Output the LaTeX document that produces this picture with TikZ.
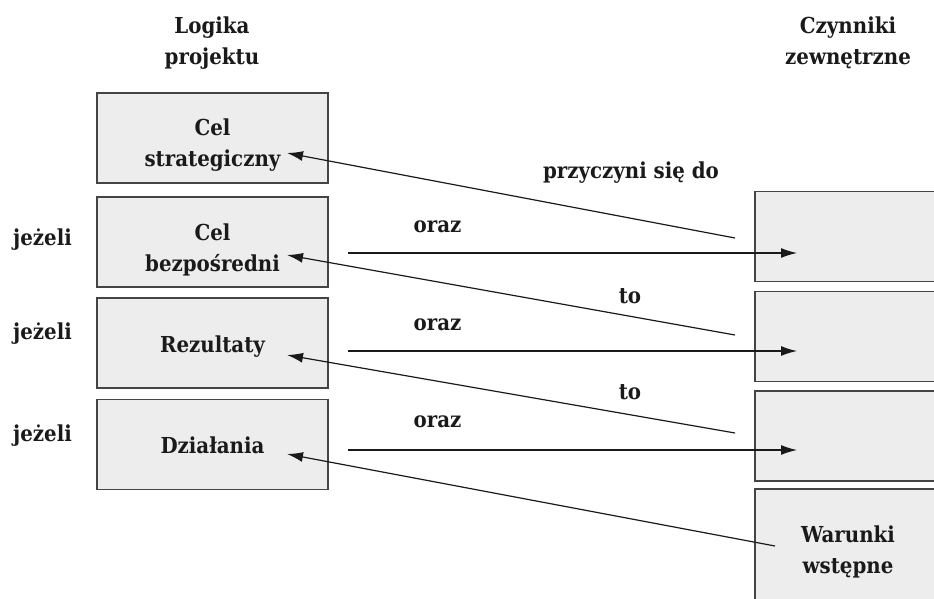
\documentclass[tikz,border=0pt]{standalone}
\usepackage{fontspec}
\setmainfont[FakeStretch=0.9]{DejaVu Serif}
\usetikzlibrary{arrows.meta}
\definecolor{boxfill}{HTML}{EDEDED}
\definecolor{boxline}{HTML}{444444}
\definecolor{ink}{HTML}{1A1A1A}
\tikzset{
  txt/.style={font=\bfseries\fontsize{22}{31}\selectfont, text=ink},
  boxtxt/.style={txt, align=center, inner sep=0pt},
  lbox/.style={draw=boxline, fill=boxfill, line width=1.3pt, minimum width=231pt,
    minimum height=90pt, inner sep=0pt},
  rbox/.style={lbox, minimum width=186pt},
  lbl/.style={txt, anchor=base},
  head/.style={txt, align=center},
  link/.style={draw=ink, line width=1.2pt, -{Latex[length=16pt,width=10pt]}}
}
\begin{document}
\begin{tikzpicture}[x=1pt,y=-1pt]
\useasboundingbox (0,0) rectangle (934,598);
\clip (0,0) rectangle (934,598);
% column headings
\node[head] (h1) at (212,43) {Logika\\projektu};
\node[head] (h2) at (848,42.5) {Czynniki\\zewnętrzne};
% project logic column
\node[lbox, label={[boxtxt, yshift=-7.5pt]center:{Cel\\strategiczny}}] (L1) at (212.5,138) {};
\node[lbox, label={[boxtxt, yshift=-7.5pt]center:{Cel\\bezpośredni}}] (L2) at (212.5,242) {};
\node[lbox, label={[boxtxt, yshift=-3.8pt]center:{Rezultaty}}] (L3) at (212.5,343) {};
\node[lbox, label={[boxtxt, yshift=-1pt]center:{Działania}}] (L4) at (212.5,444.5) {};
% external factors column
\node[rbox] (R1) at (848,236.5) {};
\node[rbox] (R2) at (848,336.5) {};
\node[rbox] (R3) at (848,436) {};
\node[rbox, minimum height=116pt,
  label={[boxtxt, yshift=-5pt]center:{Warunki\\wstępne}}] (R4) at (848,547) {};
% side labels
\node[lbl] (j1) at (42.5,245.5) {jeżeli};
\node[lbl] (j2) at (42.5,339.5) {jeżeli};
\node[lbl] (j3) at (42.5,441.5) {jeżeli};
\node[lbl] (p1) at (631,178) {przyczyni się do};
\node[lbl] (o1) at (437.5,232) {oraz};
\node[lbl] (o2) at (437.5,330) {oraz};
\node[lbl] (o3) at (437.5,427) {oraz};
\node[lbl] (t1) at (630,303) {to};
\node[lbl] (t2) at (630,399) {to};
% arrow ends
\coordinate (a1s) at (735,238); \coordinate (a1e) at (287,153);
\coordinate (b1s) at (348,253); \coordinate (b1e) at (797,253);
\coordinate (a2s) at (735,335); \coordinate (a2e) at (287,255);
\coordinate (b2s) at (348,351); \coordinate (b2e) at (797,351);
\coordinate (a3s) at (735,433); \coordinate (a3e) at (287,355);
\coordinate (b3s) at (348,450); \coordinate (b3e) at (797,450);
\coordinate (a4s) at (775,546); \coordinate (a4e) at (287,454);
\draw[link] (a1s) -- (a1e);
\draw[link] (b1s) -- (b1e);
\draw[link] (a2s) -- (a2e);
\draw[link] (b2s) -- (b2e);
\draw[link] (a3s) -- (a3e);
\draw[link] (b3s) -- (b3e);
\draw[link] (a4s) -- (a4e);
\end{tikzpicture}
\end{document}
